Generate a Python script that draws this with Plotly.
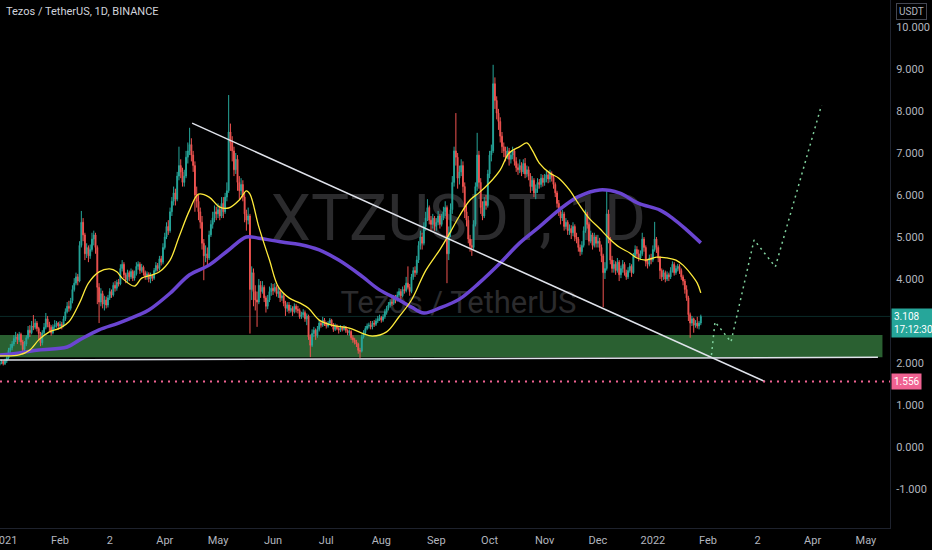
import pandas as pd
import plotly.graph_objects as go

# ---- daily candles, Dec 29 2020 .. Jan 28 2022 (one line per month) ----
first_open = 1.96

close = [
    2.00, 2.04, 1.98,
    2.05, 2.12, 2.30, 2.36, 2.45, 2.58, 2.62, 2.55, 2.68, 2.50, 2.32, 2.45, 2.60, 2.78, 2.72, 2.88, 2.85, 2.95, 2.82, 2.70, 2.48, 2.72, 2.85, 3.05, 2.92, 2.85, 2.72, 2.86, 2.90, 2.95, 2.88,
    2.92, 2.88, 3.05, 3.22, 3.35, 3.30, 3.48, 3.75, 3.90, 4.05, 3.95, 4.80, 5.35, 5.05, 4.60, 4.75, 4.55, 4.70, 4.95, 5.05, 4.75, 3.80, 3.45, 3.65, 3.40, 3.50, 3.38, 3.55,
    3.70, 3.62, 3.85, 3.78, 3.92, 3.88, 4.25, 4.35, 4.10, 3.98, 4.15, 4.05, 4.18, 4.02, 4.12, 4.30, 4.35, 4.20, 4.28, 4.15, 4.05, 4.12, 4.00, 4.08, 4.02, 4.20, 4.32, 4.25, 4.48, 4.40, 4.75,
    5.00, 5.25, 5.15, 5.60, 5.85, 6.05, 5.90, 6.45, 6.70, 6.55, 6.30, 6.45, 6.90, 7.05, 7.20, 6.95, 6.70, 6.00, 5.85, 5.60, 5.35, 4.85, 4.55, 4.60, 4.50, 5.05, 5.30, 5.45, 5.60, 5.55,
    5.65, 5.50, 5.80, 5.60, 5.95, 6.10, 7.50, 7.25, 7.05, 6.60, 6.85, 6.30, 6.10, 6.25, 5.95, 5.55, 5.40, 5.50, 3.75, 4.15, 3.70, 3.50, 3.45, 3.85, 3.70, 3.80, 3.55, 3.35, 3.50, 3.70, 3.78,
    3.72, 3.80, 3.65, 3.70, 3.55, 3.60, 3.42, 3.30, 3.38, 3.25, 3.30, 3.22, 3.35, 3.28, 3.25, 3.10, 3.15, 3.20, 3.05, 3.12, 2.62, 2.42, 2.70, 2.78, 2.65, 2.80, 2.95, 2.90, 3.02, 2.95,
    2.88, 2.95, 3.02, 2.92, 2.80, 2.88, 2.82, 2.78, 2.85, 2.80, 2.86, 2.78, 2.72, 2.75, 2.60, 2.55, 2.50, 2.45, 2.30, 2.28, 2.62, 2.72, 2.82, 2.88, 2.90, 2.86, 2.95, 2.92, 3.00, 3.05, 3.08,
    3.02, 3.10, 3.22, 3.30, 3.38, 3.45, 3.42, 3.55, 3.50, 3.62, 3.70, 3.60, 3.75, 3.72, 3.90, 3.80, 3.70, 4.05, 4.20, 4.15, 4.45, 4.80, 5.00, 4.85, 5.25, 5.45, 5.70, 5.40, 5.30, 5.45, 5.25,
    5.35, 5.50, 5.30, 5.45, 5.60, 5.70, 4.60, 5.10, 5.65, 6.30, 7.05, 6.90, 6.40, 6.55, 6.70, 6.20, 5.60, 5.40, 4.95, 4.80, 4.75, 5.30, 6.20, 6.95, 6.30, 5.70, 5.50, 5.85, 5.75, 6.50,
    6.95, 7.05, 8.65, 8.25, 7.95, 7.75, 7.40, 7.15, 7.05, 6.90, 7.05, 6.85, 6.95, 7.05, 6.80, 6.65, 6.60, 6.70, 6.55, 6.75, 6.50, 6.60, 6.45, 6.20, 6.35, 6.05, 6.15, 6.30, 6.25, 6.40, 6.30,
    6.40, 6.48, 6.38, 6.50, 6.42, 6.25, 6.05, 5.80, 5.60, 5.45, 5.55, 5.25, 5.35, 5.15, 5.20, 5.10, 5.25, 5.00, 4.95, 4.75, 4.65, 4.80, 5.15, 5.55, 5.30, 4.90, 5.05, 4.80, 5.00, 4.85,
    4.90, 4.75, 4.55, 4.15, 4.25, 5.55, 4.95, 4.45, 4.25, 4.35, 4.20, 4.40, 4.10, 4.25, 4.35, 4.15, 4.05, 4.20, 4.30, 4.15, 4.55, 4.70, 4.60, 4.50, 4.60, 4.95, 4.75, 4.40, 4.35, 4.50, 4.45,
    4.70, 4.95, 4.75, 4.50, 4.20, 4.05, 4.15, 4.00, 4.10, 4.05, 4.20, 4.35, 4.15, 4.25, 4.30, 4.20, 4.05, 3.95, 3.75, 3.55, 3.15, 2.95, 3.05, 2.90, 2.95, 2.88, 2.95, 3.108,
]

high = [
    2.06, 2.08, 2.06,
    2.10, 2.18, 2.36, 2.45, 2.52, 2.66, 2.74, 2.70, 2.74, 2.72, 2.55, 2.52, 2.66, 2.88, 2.90, 3.00, 3.14, 3.05, 3.00, 2.86, 2.74, 2.78, 2.95, 3.19, 3.12, 2.98, 2.90, 2.92, 3.02, 3.00, 2.98,
    3.00, 2.98, 3.12, 3.30, 3.45, 3.48, 3.55, 3.85, 4.02, 4.15, 4.12, 4.90, 5.62, 5.45, 5.10, 4.85, 4.80, 4.82, 5.10, 5.15, 5.10, 4.80, 3.90, 3.78, 3.72, 3.60, 3.58, 3.62,
    3.78, 3.75, 3.92, 3.95, 3.98, 4.00, 4.35, 4.45, 4.40, 4.15, 4.22, 4.20, 4.25, 4.22, 4.20, 4.40, 4.42, 4.40, 4.36, 4.32, 4.20, 4.18, 4.16, 4.15, 4.12, 4.26, 4.40, 4.38, 4.55, 4.55, 4.85,
    5.10, 5.35, 5.40, 5.70, 5.95, 6.20, 6.15, 6.55, 7.15, 6.85, 6.65, 6.60, 7.05, 7.25, 7.60, 7.35, 7.05, 6.80, 6.20, 6.00, 5.70, 5.50, 4.95, 4.80, 4.75, 5.15, 5.40, 5.60, 5.75, 5.72,
    5.80, 5.75, 5.95, 5.95, 6.05, 6.30, 8.38, 7.70, 7.40, 7.15, 7.00, 6.95, 6.45, 6.40, 6.35, 6.05, 5.65, 5.70, 5.55, 4.30, 4.25, 3.85, 3.70, 4.00, 3.95, 3.95, 3.85, 3.60, 3.62, 3.82, 3.90,
    3.88, 3.90, 3.85, 3.80, 3.75, 3.68, 3.65, 3.48, 3.45, 3.45, 3.38, 3.35, 3.42, 3.40, 3.36, 3.30, 3.22, 3.28, 3.25, 3.18, 3.15, 2.68, 2.80, 2.86, 2.82, 2.88, 3.02, 3.00, 3.10, 3.07,
    2.98, 3.00, 3.07, 3.05, 2.95, 2.94, 2.92, 2.86, 2.90, 2.88, 2.90, 2.88, 2.80, 2.80, 2.78, 2.66, 2.60, 2.55, 2.48, 2.36, 2.68, 2.78, 2.88, 2.94, 2.96, 3.00, 3.00, 3.02, 3.06, 3.12, 3.15,
    3.12, 3.16, 3.28, 3.36, 3.45, 3.52, 3.55, 3.62, 3.62, 3.70, 3.78, 3.76, 3.82, 3.85, 4.05, 4.30, 3.88, 4.12, 4.28, 4.30, 4.55, 4.90, 5.15, 5.10, 5.35, 5.60, 5.90, 5.75, 5.50, 5.55, 5.50,
    5.45, 5.62, 5.55, 5.55, 5.72, 5.85, 5.75, 5.25, 5.80, 6.45, 7.15, 7.95, 7.00, 6.70, 6.85, 6.80, 6.30, 5.75, 5.50, 5.05, 4.95, 5.40, 6.30, 7.48, 7.05, 6.40, 5.85, 5.95, 6.00, 6.60,
    7.05, 7.20, 9.10, 8.80, 8.35, 8.05, 7.85, 7.50, 7.25, 7.15, 7.15, 7.12, 7.05, 7.15, 7.10, 6.90, 6.75, 6.85, 6.78, 6.85, 6.88, 6.70, 6.68, 6.52, 6.45, 6.40, 6.25, 6.40, 6.38, 6.50, 6.48,
    6.50, 6.58, 6.55, 6.60, 6.56, 6.48, 6.30, 6.10, 5.88, 5.72, 5.65, 5.60, 5.45, 5.40, 5.30, 5.28, 5.35, 5.30, 5.10, 5.00, 4.82, 4.90, 5.25, 5.65, 5.60, 5.35, 5.15, 5.10, 5.10, 5.05,
    5.05, 4.98, 4.82, 4.60, 4.40, 6.10, 5.65, 5.00, 4.55, 4.45, 4.42, 4.50, 4.45, 4.32, 4.45, 4.40, 4.22, 4.28, 4.38, 4.35, 4.62, 4.80, 4.78, 4.70, 4.68, 5.10, 5.00, 4.80, 4.48, 4.58, 4.60,
    4.80, 5.36, 5.00, 4.80, 4.55, 4.25, 4.22, 4.20, 4.18, 4.15, 4.28, 4.42, 4.40, 4.32, 4.36, 4.35, 4.25, 4.10, 4.00, 3.85, 3.60, 3.20, 3.12, 3.08, 3.02, 3.10, 3.00, 3.15,
]

low = [
    1.93, 1.97, 1.94,
    1.95, 2.00, 2.08, 2.22, 2.30, 2.40, 2.50, 2.45, 2.50, 2.42, 2.20, 2.28, 2.40, 2.56, 2.62, 2.68, 2.78, 2.80, 2.75, 2.55, 2.40, 2.42, 2.68, 2.80, 2.85, 2.75, 2.65, 2.68, 2.80, 2.84, 2.80,
    2.82, 2.80, 2.85, 3.00, 3.18, 3.22, 3.25, 3.42, 3.70, 3.85, 3.85, 3.92, 4.75, 4.90, 4.45, 4.50, 4.40, 4.48, 4.65, 4.80, 4.60, 3.40, 2.95, 3.35, 3.30, 3.25, 3.30, 3.32,
    3.50, 3.55, 3.58, 3.70, 3.72, 3.82, 3.85, 4.18, 4.02, 3.90, 3.92, 3.95, 4.00, 3.95, 3.96, 4.08, 4.22, 4.12, 4.15, 4.08, 3.98, 3.98, 3.92, 3.90, 3.95, 3.98, 4.15, 4.18, 4.20, 4.32, 4.35,
    4.70, 4.95, 5.05, 5.10, 5.50, 5.75, 5.75, 5.85, 6.35, 6.40, 6.20, 6.20, 6.40, 6.75, 6.95, 6.80, 6.55, 5.60, 5.70, 5.40, 5.20, 4.70, 3.97, 4.40, 4.30, 4.45, 5.00, 5.20, 5.35, 5.40,
    5.45, 5.40, 5.45, 5.45, 5.55, 5.85, 6.05, 7.05, 6.80, 6.45, 6.50, 6.10, 5.90, 6.00, 5.85, 5.35, 5.15, 5.30, 2.70, 3.50, 3.35, 3.25, 2.86, 3.40, 3.55, 3.65, 3.45, 3.20, 3.28, 3.45, 3.60,
    3.62, 3.68, 3.58, 3.55, 3.45, 3.48, 3.35, 3.12, 3.22, 3.18, 3.20, 3.12, 3.18, 3.20, 3.18, 3.05, 3.05, 3.08, 2.98, 2.90, 2.55, 2.14, 2.38, 2.62, 2.55, 2.60, 2.75, 2.84, 2.86, 2.88,
    2.82, 2.84, 2.92, 2.86, 2.74, 2.76, 2.78, 2.70, 2.74, 2.75, 2.77, 2.72, 2.66, 2.65, 2.55, 2.48, 2.44, 2.38, 2.22, 2.12, 2.25, 2.58, 2.68, 2.78, 2.82, 2.80, 2.80, 2.86, 2.88, 2.95, 3.00,
    2.96, 2.98, 3.05, 3.15, 3.25, 3.32, 3.36, 3.38, 3.42, 3.46, 3.58, 3.52, 3.56, 3.65, 3.68, 3.75, 3.60, 3.66, 3.98, 4.05, 4.10, 4.38, 4.70, 4.70, 4.80, 5.15, 5.38, 5.30, 5.15, 5.20, 5.15,
    5.15, 5.28, 5.20, 5.25, 5.40, 5.50, 3.90, 4.45, 5.00, 5.55, 6.20, 6.70, 6.15, 6.25, 6.45, 6.05, 5.45, 5.25, 4.85, 4.65, 4.55, 4.70, 5.25, 6.10, 6.15, 5.55, 5.40, 5.45, 5.65, 5.70,
    6.40, 6.80, 7.00, 8.05, 7.80, 7.55, 7.25, 7.00, 6.90, 6.80, 6.85, 6.70, 6.75, 6.85, 6.70, 6.55, 6.48, 6.52, 6.45, 6.50, 6.40, 6.42, 6.35, 6.05, 6.10, 5.95, 5.90, 6.05, 6.15, 6.18, 6.20,
    6.22, 6.30, 6.28, 6.30, 6.32, 6.15, 5.95, 5.70, 5.50, 5.30, 5.38, 5.15, 5.18, 5.05, 5.05, 4.95, 5.02, 4.90, 4.85, 4.65, 4.55, 4.58, 4.75, 5.10, 5.20, 4.80, 4.85, 4.70, 4.75, 4.75,
    4.75, 4.65, 4.40, 3.33, 4.00, 4.20, 4.85, 4.35, 4.15, 4.15, 4.10, 4.15, 3.95, 4.02, 4.15, 4.08, 3.98, 4.00, 4.15, 4.05, 4.12, 4.50, 4.50, 4.42, 4.45, 4.55, 4.65, 4.30, 4.25, 4.30, 4.35,
    4.40, 4.65, 4.62, 4.40, 4.00, 3.95, 3.98, 3.92, 3.95, 3.95, 4.00, 4.15, 4.08, 4.10, 4.18, 4.12, 3.98, 3.85, 3.65, 3.48, 3.00, 2.60, 2.88, 2.72, 2.84, 2.82, 2.80, 2.90,
]

# ---- moving averages ----
fast_ma_dates = ["2020-12-29", "2021-01-09", "2021-01-15", "2021-01-20", "2021-01-26", "2021-02-01", "2021-02-06",
                 "2021-02-12", "2021-02-17", "2021-02-23", "2021-03-01", "2021-03-05", "2021-03-08", "2021-03-15",
                 "2021-03-19", "2021-03-25", "2021-03-29", "2021-04-04", "2021-04-09", "2021-04-15", "2021-04-20",
                 "2021-04-26", "2021-05-02", "2021-05-07", "2021-05-13", "2021-05-17", "2021-05-19", "2021-05-24",
                 "2021-05-30", "2021-06-04", "2021-06-10", "2021-06-16", "2021-06-21", "2021-06-27", "2021-07-04",
                 "2021-07-14", "2021-07-21", "2021-07-27", "2021-08-04", "2021-08-11", "2021-08-18", "2021-08-26",
                 "2021-09-03", "2021-09-08", "2021-09-14", "2021-09-20", "2021-09-25", "2021-10-01", "2021-10-07",
                 "2021-10-12", "2021-10-18", "2021-10-22", "2021-10-25", "2021-10-29", "2021-11-04", "2021-11-09",
                 "2021-11-15", "2021-11-20", "2021-11-26", "2021-12-02", "2021-12-07", "2021-12-13", "2021-12-19",
                 "2021-12-23", "2021-12-28", "2022-01-03", "2022-01-09", "2022-01-14", "2022-01-18", "2022-01-22",
                 "2022-01-26", "2022-01-28"]
fast_ma = [2.17, 2.19, 2.31, 2.55, 2.74, 2.83, 2.98,
           3.43, 3.90, 4.17, 4.24, 4.17, 4.02, 3.83,
           4.02, 4.10, 4.17, 4.45, 5.00, 5.64, 6.02,
           5.95, 5.71, 5.69, 5.88, 6.10, 6.02, 5.24,
           4.45, 3.81, 3.55, 3.43, 3.30, 3.02, 2.90,
           2.83, 2.71, 2.64, 2.74, 3.10, 3.50, 4.20,
           4.70, 5.05, 5.50, 5.88, 6.05, 6.29, 6.60,
           7.00, 7.15, 7.24, 7.07, 6.76, 6.52, 6.40,
           6.12, 5.80, 5.45, 5.20, 4.98, 4.76, 4.62,
           4.50, 4.45, 4.52, 4.50, 4.45, 4.33, 4.14,
           3.90, 3.67]

slow_ma_dates = ["2020-12-29", "2021-01-09", "2021-01-20", "2021-02-05", "2021-02-12", "2021-02-23", "2021-03-06",
                 "2021-03-17", "2021-03-23", "2021-04-04", "2021-04-15", "2021-04-26", "2021-05-07", "2021-05-17",
                 "2021-05-24", "2021-06-06", "2021-06-16", "2021-06-27", "2021-07-08", "2021-07-20", "2021-07-31",
                 "2021-08-11", "2021-08-18", "2021-08-25", "2021-09-03", "2021-09-14", "2021-09-25", "2021-10-07",
                 "2021-10-18", "2021-10-29", "2021-11-09", "2021-11-20", "2021-12-02", "2021-12-13", "2021-12-24",
                 "2022-01-05", "2022-01-12", "2022-01-20", "2022-01-28"]
slow_ma = [2.19, 2.24, 2.31, 2.38, 2.55, 2.79, 2.95,
           3.14, 3.26, 3.66, 4.10, 4.33, 4.69, 5.00,
           4.97, 4.88, 4.82, 4.69, 4.45, 4.10, 3.74,
           3.50, 3.33, 3.19, 3.31, 3.52, 3.90, 4.38,
           4.86, 5.24, 5.64, 5.96, 6.12, 6.05, 5.80,
           5.64, 5.45, 5.17, 4.86]

# ---- drawings ----
trend_dates = ["2021-04-16 10:00", "2022-03-05 05:00"]
trend_prices = [7.71, 1.556]
support_dates = ["2020-12-29", "2022-05-07 19:00"]
support_prices = [2.07, 2.135]
zone_dates = ["2020-12-27", "2022-05-10 08:00"]
zone_prices = [2.135, 2.667]
path_dates = ["2022-02-03", "2022-02-05", "2022-02-14", "2022-02-27", "2022-03-11", "2022-04-06"]
path_prices = [2.19, 2.98, 2.50, 4.93, 4.29, 8.14]
target_price = 1.556
last_price = 3.108

y_ticks = [-1, 0, 1, 2, 4, 5, 6, 7, 8, 9, 10]
month_ticks = pd.date_range("2021-01-01", "2022-05-01", freq="MS")
month_labels = ["2021", "Feb", "2", "Apr", "May", "Jun", "Jul", "Aug", "Sep", "Oct", "Nov", "Dec",
                "2022", "Feb", "2", "Apr", "May"]

dates = pd.date_range("2020-12-29", periods=len(close), freq="D")
opens = [first_open] + close[:-1]

FONT = "Roboto, 'Liberation Sans', sans-serif"
AXIS_GREY = "#b2b5be"

fig = go.Figure()

fig.add_trace(go.Candlestick(
    x=dates, open=opens, high=high, low=low, close=close,
    increasing=dict(line=dict(color="#26a69a", width=1), fillcolor="#26a69a"),
    decreasing=dict(line=dict(color="#ef5350", width=1), fillcolor="#ef5350"),
    whiskerwidth=0, showlegend=False, hoverinfo="skip",
))

fig.add_trace(go.Scatter(x=slow_ma_dates, y=slow_ma, mode="lines",
                         line=dict(color="#6a45d1", width=3.5, shape="spline"),
                         showlegend=False, hoverinfo="skip"))
fig.add_trace(go.Scatter(x=fast_ma_dates, y=fast_ma, mode="lines",
                         line=dict(color="#ffeb3b", width=1.3, shape="spline"),
                         showlegend=False, hoverinfo="skip"))

fig.add_trace(go.Scatter(x=trend_dates, y=trend_prices, mode="lines",
                         line=dict(color="#e0e3eb", width=1.5), showlegend=False, hoverinfo="skip"))
fig.add_trace(go.Scatter(x=support_dates, y=support_prices, mode="lines",
                         line=dict(color="#e0e3eb", width=1.5), showlegend=False, hoverinfo="skip"))
fig.add_trace(go.Scatter(x=path_dates, y=path_prices, mode="lines",
                         line=dict(color="#7fcf9c", width=1.5, dash="2px,4px"),
                         showlegend=False, hoverinfo="skip"))

# green zone, below the candles
fig.add_shape(type="rect", xref="x", yref="y", x0=zone_dates[0], x1=zone_dates[1],
              y0=zone_prices[0], y1=zone_prices[1], fillcolor="#2a6031",
              line=dict(width=0), layer="below")

# price lines
fig.add_shape(type="line", xref="paper", yref="y", x0=0, x1=1, y0=target_price, y1=target_price,
              line=dict(color="#f06292", width=2, dash="2px,5px"))
fig.add_shape(type="line", xref="paper", yref="y", x0=0, x1=1, y0=last_price, y1=last_price,
              line=dict(color="rgba(38,166,154,0.25)", width=1), layer="below")

# watermark behind the candles
fig.add_shape(type="rect", xref="paper", yref="paper", x0=0.2, x1=0.83, y0=0.53, y1=0.66,
              line=dict(width=0), fillcolor="rgba(0,0,0,0)", layer="below",
              label=dict(text="XTZUSDT, 1D", textposition="middle center",
                         font=dict(family=FONT, size=64, color="#2b2b2d")))
fig.add_shape(type="rect", xref="paper", yref="paper", x0=0.3, x1=0.73, y0=0.40, y1=0.46,
              line=dict(width=0), fillcolor="rgba(0,0,0,0)", layer="below",
              label=dict(text="Tezos / TetherUS", textposition="middle center",
                         font=dict(family=FONT, size=31, color="#2b2b2d")))

# title and axis labels
fig.add_annotation(xref="paper", yref="paper", x=0.005, y=0.979, xanchor="left", yanchor="middle",
                   text="Tezos / TetherUS, 1D, BINANCE", showarrow=False,
                   font=dict(family=FONT, size=11, color="#d1d4dc"))
fig.add_annotation(xref="paper", yref="paper", x=1.0236, y=0.979, xanchor="center", yanchor="middle",
                   text="USDT", showarrow=False, bordercolor="#434651", borderwidth=1, borderpad=2,
                   font=dict(family=FONT, size=10, color=AXIS_GREY))
fig.add_annotation(xref="paper", yref="y", x=1.0, y=last_price, xanchor="left", yanchor="top",
                   xshift=1, yshift=8, align="left",
                   text=f"{last_price:.3f}<br>17:12:30", showarrow=False,
                   bgcolor="#26a69a", borderpad=2,
                   font=dict(family=FONT, size=10, color="#ffffff"))
fig.add_annotation(xref="paper", yref="y", x=1.0, y=target_price, xanchor="left", yanchor="middle",
                   xshift=1, text=f"{target_price:.3f}", showarrow=False,
                   bgcolor="#f06292", borderpad=2,
                   font=dict(family=FONT, size=10, color="#ffffff"))

fig.update_layout(
    width=932, height=550,
    margin=dict(l=0, r=42, t=0, b=22, autoexpand=False),
    paper_bgcolor="#000000", plot_bgcolor="#000000",
    font=dict(family=FONT, color=AXIS_GREY, size=11),
    showlegend=False,
    xaxis=dict(
        range=["2020-12-29 04:20", "2022-05-14 14:00"],
        rangeslider=dict(visible=False),
        tickvals=month_ticks, ticktext=month_labels,
        ticklabeloverflow="allow",
        showgrid=False, zeroline=False,
        showline=True, linecolor="#1e222d", linewidth=1,
        ticks="", ticklabelstandoff=2,
        tickfont=dict(family=FONT, size=11, color=AXIS_GREY),
    ),
    yaxis=dict(
        side="right", range=[-1.93, 10.643],
        tickvals=y_ticks, ticktext=[f"{v:.3f}" for v in y_ticks],
        showgrid=False, zeroline=False,
        showline=True, linecolor="#1e222d", linewidth=1,
        ticks="", ticklabelstandoff=3,
        tickfont=dict(family=FONT, size=11, color=AXIS_GREY),
    ),
)

# the browser's default 8px body margin would push the chart off the window
fig.write_html("out.html", config={"displayModeBar": False},
               post_script="document.body.style.margin='0';document.body.style.background='#000';")
